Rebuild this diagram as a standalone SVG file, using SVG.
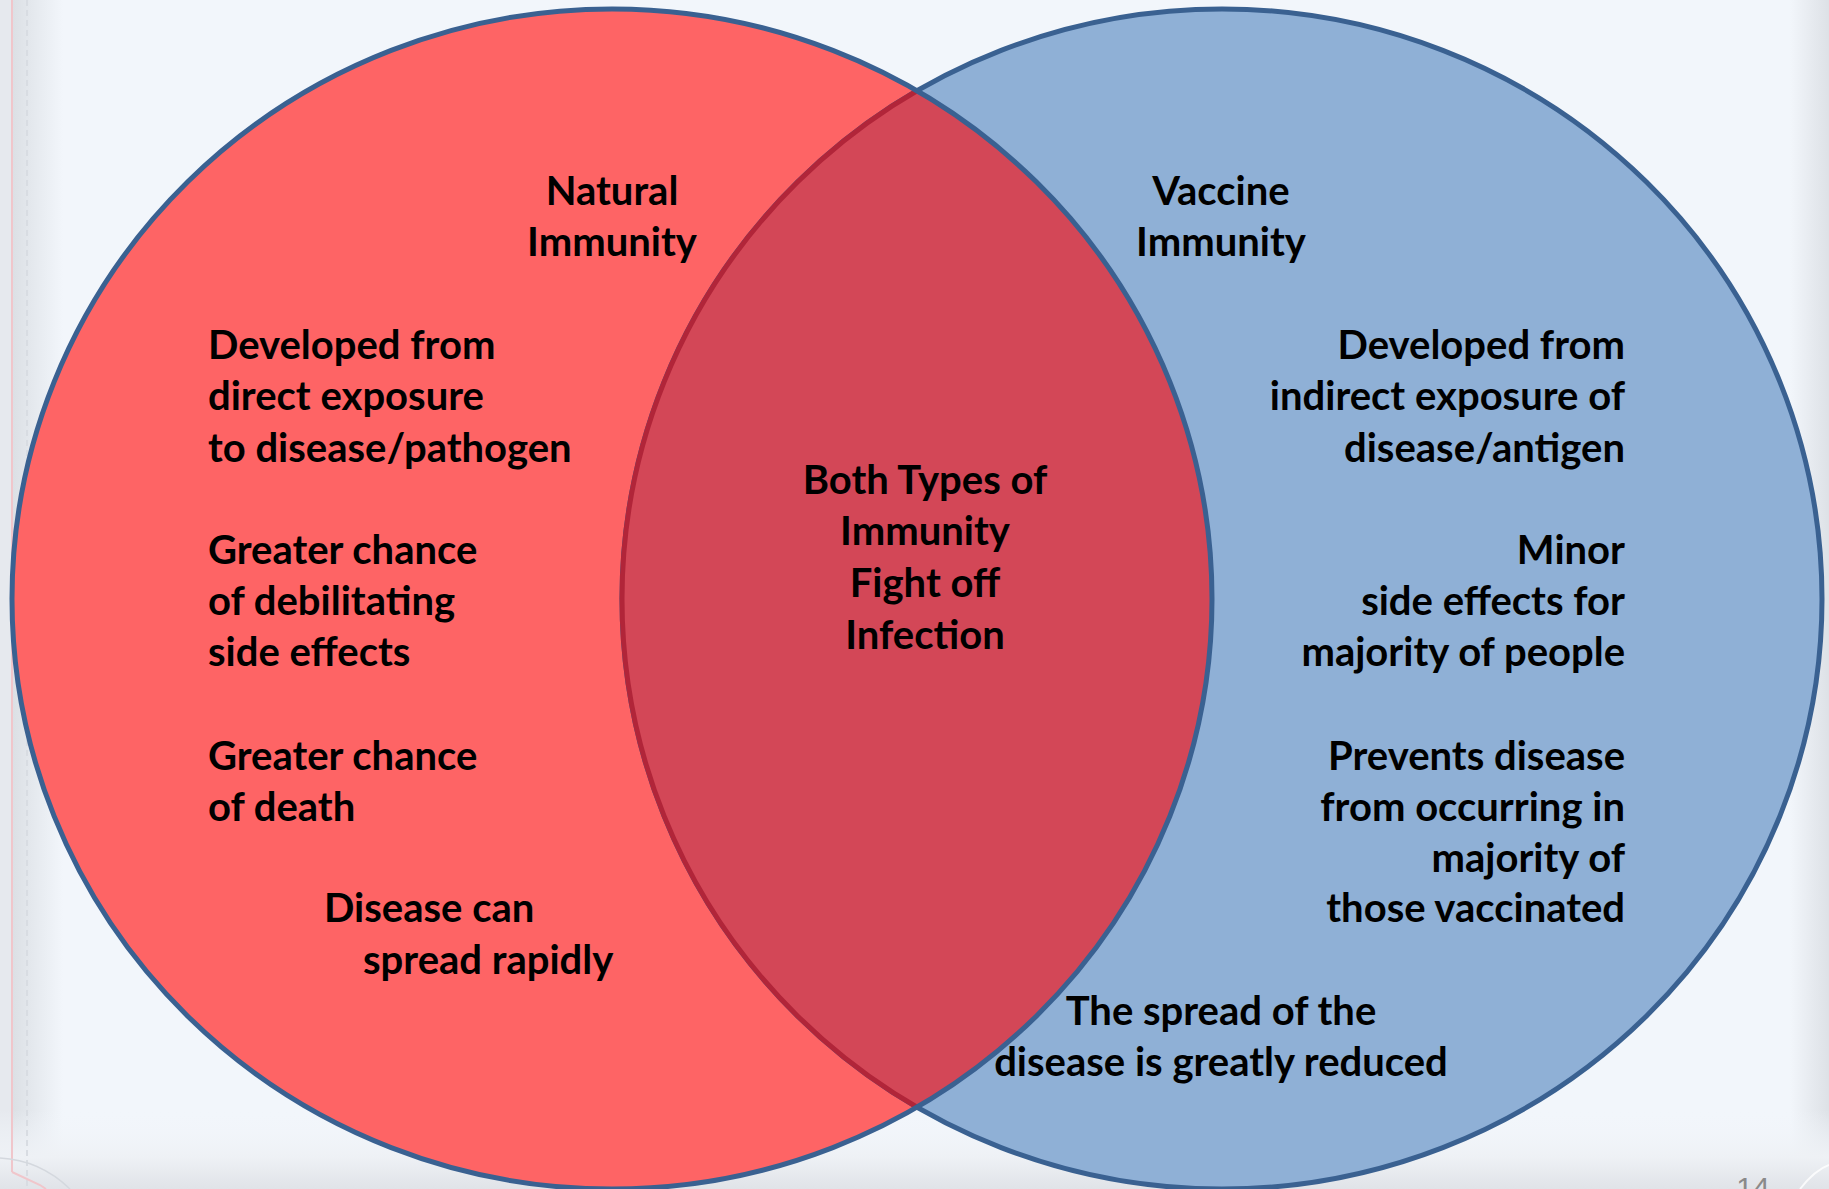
<svg xmlns="http://www.w3.org/2000/svg" width="1829" height="1189" viewBox="0 0 1829 1189">
<defs>
<linearGradient id="lshade" x1="0" y1="0" x2="1" y2="0">
<stop offset="0" stop-color="#dce0e5"/>
<stop offset="1" stop-color="#f2f6fb"/>
</linearGradient>
<linearGradient id="bshade" x1="0" y1="0" x2="0" y2="1">
<stop offset="0" stop-color="#f2f6fb" stop-opacity="0"/>
<stop offset="0.6" stop-color="#eef1f5"/>
<stop offset="1" stop-color="#e0e3e8"/>
</linearGradient>
<linearGradient id="rshade" x1="0" y1="0" x2="1" y2="0">
<stop offset="0" stop-color="#f2f6fb"/>
<stop offset="1" stop-color="#dde1e6"/>
</linearGradient>
<clipPath id="leftClip">
<ellipse cx="612" cy="599" rx="600" ry="590"/>
</clipPath>
<style>
.t{font-family:"Lato","Open Sans","Liberation Sans",sans-serif;font-weight:700;font-size:40px;fill:#000}
.m{text-anchor:middle}
.e{text-anchor:end}
</style>
</defs>
<g id="background">
<rect x="0" y="0" width="1829" height="1189" fill="#f2f6fb"/>
<rect x="0" y="0" width="12" height="1189" fill="#e6e9ee"/>
<rect x="13" y="0" width="50" height="1189" fill="url(#lshade)"/>
<rect x="1790" y="0" width="39" height="1189" fill="url(#rshade)"/>
<rect x="0" y="1110" width="1829" height="79" fill="url(#bshade)"/>
<line x1="12" y1="0" x2="12" y2="1172" stroke="#f0c6cb" stroke-width="2"/>
<line x1="27" y1="0" x2="27" y2="1189" stroke="#d8dce2" stroke-width="2" stroke-dasharray="6,4"/>
<path d="M12 1172 L40 1185 L46 1189" fill="none" stroke="#f0c6cb" stroke-width="2"/>
<path d="M0 1158 Q40 1160 70 1189" fill="none" stroke="#d4d8de" stroke-width="1.5"/>
<path d="M1800 1189 Q1815 1170 1829 1165" fill="none" stroke="#ffffff" stroke-width="2" opacity="0.8"/>
</g>
<g id="natural-circle">
<ellipse cx="612" cy="599" rx="600" ry="590" fill="#fe6465"/>
</g>
<g id="vaccine-circle">
<ellipse cx="1222" cy="599" rx="600" ry="590" fill="#8fb0d6" stroke="#3a6191" stroke-width="5"/>
</g>
<g id="overlap">
<ellipse cx="1222" cy="599" rx="600" ry="590" fill="#d34757" stroke="#b12539" stroke-width="5" clip-path="url(#leftClip)"/>
<ellipse cx="612" cy="599" rx="600" ry="590" fill="none" stroke="#3a6191" stroke-width="5"/>
</g>
<g id="connectors"></g>
<g id="labels">
<text class="t m" x="612" y="205">Natural</text>
<text class="t m" x="612" y="256">Immunity</text>
<text class="t m" x="1221" y="205">Vaccine</text>
<text class="t m" x="1221" y="256">Immunity</text>

<text class="t" x="208" y="359">Developed from</text>
<text class="t" x="208" y="410">direct exposure</text>
<text class="t" x="208" y="462">to disease/pathogen</text>
<text class="t" x="208" y="564">Greater chance</text>
<text class="t" x="208" y="615">of debilitating</text>
<text class="t" x="208" y="666">side effects</text>
<text class="t" x="208" y="770">Greater chance</text>
<text class="t" x="208" y="821">of death</text>
<text class="t" x="324" y="922">Disease can</text>
<text class="t" x="363" y="974">spread rapidly</text>

<text class="t m" x="925" y="494">Both Types of</text>
<text class="t m" x="925" y="545">Immunity</text>
<text class="t m" x="925" y="597">Fight off</text>
<text class="t m" x="925" y="649">Infection</text>

<text class="t e" x="1625" y="359">Developed from</text>
<text class="t e" x="1625" y="410">indirect exposure of</text>
<text class="t e" x="1625" y="462">disease/antigen</text>
<text class="t e" x="1625" y="564">Minor</text>
<text class="t e" x="1625" y="615">side effects for</text>
<text class="t e" x="1625" y="666">majority of people</text>
<text class="t e" x="1625" y="770">Prevents disease</text>
<text class="t e" x="1625" y="821">from occurring in</text>
<text class="t e" x="1625" y="872">majority of</text>
<text class="t e" x="1625" y="922">those vaccinated</text>

<text class="t m" x="1221" y="1025">The spread of the</text>
<text class="t m" x="1221" y="1076">disease is greatly reduced</text>
</g>
<text x="1753" y="1198" text-anchor="middle" font-family="Liberation Sans, sans-serif" font-size="30" fill="#8a8a8a">14</text>
</svg>
